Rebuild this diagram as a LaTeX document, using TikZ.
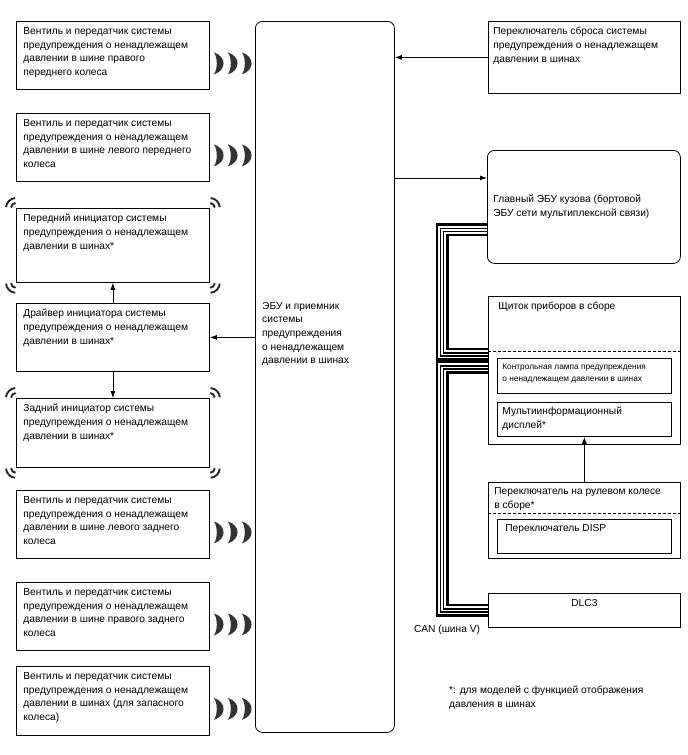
\documentclass[tikz,border=0pt]{standalone}
\usepackage{fontspec}
\setmainfont{Liberation Sans}
\usetikzlibrary{arrows.meta, calc}

\newcommand{\boxfont}{\fontsize{10.2}{13.6}\selectfont}
\newcommand{\smallboxfont}{\fontsize{8.3}{12}\selectfont}
\newcommand{\boxtext}[4][t]{\parbox[c][#3][#1]{#2}{\raggedright #4}}

\tikzset{
  unit/.style={draw, line width=0.8pt, anchor=north west,
    inner xsep=7pt, inner ysep=6pt, font=\boxfont},
  ecubox/.style={draw, line width=0.8pt, rounded corners=7pt, anchor=north west,
    minimum width=139pt, minimum height=711pt},
  plain/.style={font=\boxfont, align=left, inner sep=0pt},
  arw/.style={-{Latex[length=7pt,width=5pt]}, line width=0.8pt},
  divider/.style={dash pattern=on 3pt off 2pt, line width=0.7pt},
  markline/.style={line width=1.9pt, black!85},
  wavefill/.style={fill=black!80},
  canbus/.style={draw=black, line width=13pt,
    postaction={draw=white, line width=8pt},
    postaction={draw=black, line width=4.6pt},
    postaction={draw=white, line width=1.6pt}},
  radiowaves/.pic={
    \foreach \i in {0,14,28}
      \fill[wavefill] (\i,-11) .. controls ({\i+13},-7) and ({\i+13},7) .. (\i,11)
        .. controls ({\i+4},6) and ({\i+4},-6) .. cycle;
  },
}

\begin{document}
\begin{tikzpicture}[x=1pt, y=-1pt]
  \useasboundingbox (0,0) rectangle (688,755);

  % left column: valves and initiators
  \node[unit] (rfv) at (16,21) {\boxtext{179pt}{56pt}{Вентиль и передатчик системы\\предупреждения о ненадлежащем\\давлении в шине правого\\переднего колеса}};
  \node[unit] (lfv) at (16,113) {\boxtext{179pt}{56pt}{Вентиль и передатчик системы\\предупреждения о ненадлежащем\\давлении в шине левого переднего\\колеса}};
  \node[unit] (fini) at (16,208) {\boxtext{179pt}{62pt}{Передний инициатор системы\\предупреждения о ненадлежащем\\давлении в шинах*}};
  \node[unit] (driver) at (16,303) {\boxtext{179pt}{56pt}{Драйвер инициатора системы\\предупреждения о ненадлежащем\\давлении в шинах*}};
  \node[unit] (rini) at (16,398) {\boxtext{179pt}{57pt}{Задний инициатор системы\\предупреждения о ненадлежащем\\давлении в шинах*}};
  \node[unit] (lrv) at (16,490) {\boxtext{179pt}{56pt}{Вентиль и передатчик системы\\предупреждения о ненадлежащем\\давлении в шине левого заднего\\колеса}};
  \node[unit] (rrv) at (16,582) {\boxtext{179pt}{56pt}{Вентиль и передатчик системы\\предупреждения о ненадлежащем\\давлении в шине правого заднего\\колеса}};
  \node[unit] (spv) at (16,666) {\boxtext{179pt}{57pt}{Вентиль и передатчик системы\\предупреждения о ненадлежащем\\давлении в шинах (для запасного\\колеса)}};

  % central ECU
  \node[ecubox] (ecu) at (255,21) {};
  \node[plain, anchor=west] (ecutext) at (262,334) {ЭБУ и приемник\\системы\\предупреждения\\о ненадлежащем\\давлении в шинах};

  % right column
  \node[unit, inner xsep=5pt] (reset) at (488,21) {\boxtext{182pt}{60pt}{Переключатель сброса системы\\предупреждения о ненадлежащем\\давлении в шинах}};
  \node[unit, inner xsep=6pt, rounded corners=7pt] (bodyecu) at (487,150) {\boxtext[c]{181pt}{101pt}{Главный ЭБУ кузова (бортовой\\ЭБУ сети мультиплексной связи)}};
  \node[unit, inner xsep=10pt] (meter) at (488,296) {\boxtext{172pt}{136pt}{Щиток приборов в сборе}};
  \node[unit, inner xsep=5pt, inner ysep=5pt, font=\smallboxfont] (lamp) at (497,358) {\boxtext{164pt}{25pt}{Контрольная лампа предупреждения\\о ненадлежащем давлении в шинах}};
  \node[unit, inner xsep=5pt, inner ysep=5pt] (multi) at (497,402) {\boxtext{164pt}{24pt}{Мультиинформационный\\дисплей*}};
  \node[unit, inner xsep=6pt, inner ysep=5pt] (steer) at (488,482) {\boxtext{180pt}{66pt}{Переключатель на рулевом колесе\\в сборе*}};
  \node[unit, inner xsep=8pt, inner ysep=5pt] (disp) at (497,519) {\boxtext{158pt}{24pt}{Переключатель DISP}};
  \node[unit] (dlc) at (488,593) {\boxtext{178pt}{22pt}{\centering DLC3}};

  \draw[divider] ([yshift=-55pt]meter.north west) -- ([yshift=-55pt]meter.north east);
  \draw[divider] ([yshift=-31pt]steer.north west) -- ([yshift=-31pt]steer.north east);

  % arrows
  \coordinate (busecu) at ([yshift=29pt]bodyecu.west);
  \draw[arw] (reset.west) -- (reset.west -| ecu.east);
  \draw[arw] (ecu.east |- busecu) -- (busecu);
  \draw[arw] (ecu.west |- driver.east) -- (driver.east);
  \draw[arw] (driver.north) -- (fini.south);
  \draw[arw] (driver.south) -- (rini.north);
  \draw[arw] (steer.north) -- (multi.south);

  % CAN bus
  \coordinate (canx) at (442,0);
  \coordinate (canA) at ([yshift=-23pt]bodyecu.west);
  \coordinate (canB) at ([yshift=16pt]meter.west);
  \coordinate (canC) at ([yshift=3pt]meter.west);
  \draw[canbus] (canA) -| (canx |- canB) -- (canB);
  \draw[canbus] (canC) -| (canx |- dlc.west) -- (dlc.west);
  \node[plain] (canlbl) at (447,630) {CAN (шина V)};

  % radio waves from the valves
  \foreach \b in {rfv,lfv,lrv,rrv,spv}
    \pic at ([xshift=4pt,yshift=-8pt]\b.east) {radiowaves};

  % initiator corner marks
  \foreach \b in {fini,rini}
    \foreach \c/\a in {north west/225,north east/315,south west/135,south east/45}
      \foreach \r in {5,10}
        \draw[markline] ($(\b.\c)+({\a-40}:\r)$) arc[start angle=\a-40, end angle=\a+40, radius=\r];

  \node[plain, anchor=north west] (note) at (449,686) {*: для моделей с функцией отображения\\давления в шинах};
\end{tikzpicture}
\end{document}
